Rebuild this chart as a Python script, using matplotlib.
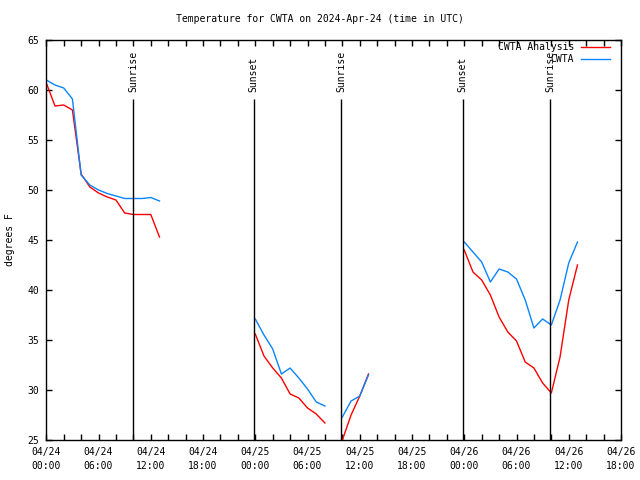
import matplotlib
matplotlib.use('Agg')
import matplotlib.pyplot as plt
import numpy as np

# hours since 2024-04-24 00:00 UTC
analysis_hours = [
    list(range(0, 14)),
    list(range(24, 33)),
    list(range(34, 38)),
    list(range(48, 62)),
]
analysis_temp = [
    [60.7, 58.4, 58.5, 58.0, 51.6, 50.3, 49.7, 49.3, 49.0, 47.7, 47.55, 47.55, 47.55, 45.3],
    [35.6, 33.4, 32.2, 31.2, 29.6, 29.2, 28.2, 27.6, 26.7],
    [25.0, 27.5, 29.4, 31.6],
    [44.0, 41.8, 41.0, 39.5, 37.3, 35.8, 34.9, 32.8, 32.2, 30.7, 29.7, 33.3, 39.0, 42.5],
]

obs_hours = [
    list(range(0, 14)),
    list(range(24, 33)),
    list(range(34, 38)),
    list(range(48, 62)),
]
obs_temp = [
    [61.0, 60.5, 60.2, 59.1, 51.5, 50.5, 50.0, 49.65, 49.4, 49.15, 49.15, 49.15, 49.25, 48.9],
    [37.1, 35.5, 34.1, 31.6, 32.2, 31.2, 30.1, 28.8, 28.4],
    [27.3, 28.9, 29.4, 31.5],
    [44.8, 43.8, 42.8, 40.8, 42.1, 41.8, 41.1, 39.0, 36.2, 37.1, 36.5, 39.0, 42.7, 44.8],
]

event_hours = [10.0, 23.8, 33.85, 47.8, 57.85]
event_names = ['Sunrise', 'Sunset', 'Sunrise', 'Sunset', 'Sunrise']

plt.rcParams['font.family'] = ['DejaVu Sans Mono']
plt.rcParams['font.size'] = 7

fig = plt.figure(figsize=(6.4, 4.8), dpi=100)
ax = fig.add_axes([46.3 / 640, 40 / 480, (621 - 46.3) / 640, 400 / 480])

for i in range(len(analysis_hours)):
    ax.plot(analysis_hours[i], analysis_temp[i], color='#ff0000', lw=1.0,
            label='CWTA Analysis' if i == 0 else None)
for i in range(len(obs_hours)):
    ax.plot(obs_hours[i], obs_temp[i], color='#0a84ff', lw=1.0,
            label='CWTA' if i == 0 else None)

ax.vlines(event_hours, 25, 59.1, color='black', lw=1.0)
for h, name in zip(event_hours, event_names):
    ax.text(h, 59.8, name, rotation=90, ha='center', va='bottom')

ax.set_xlim(0, 66)
ax.set_ylim(25, 65)

ticks = np.arange(0, 67, 2)
labels = []
for t in ticks:
    if t % 6 == 0:
        labels.append('04/%02d\n%02d:00' % (24 + t // 24, t % 24))
    else:
        labels.append('')
ax.set_xticks(ticks)
ax.set_xticklabels(labels, linespacing=1.5)
ax.set_yticks(np.arange(25, 66, 5))
ax.tick_params(direction='in', length=4, width=1, top=True, right=True, pad=5)
for s in ax.spines.values():
    s.set_linewidth(1.0)

ax.legend(loc='upper right', bbox_to_anchor=(0.981, 0.995), frameon=False,
          markerfirst=False, handlelength=3.0, handletextpad=0.7,
          labelspacing=0.25, borderpad=0, borderaxespad=0)

fig.text(0.5, 1 - 19 / 480, 'Temperature for CWTA on 2024-Apr-24 (time in UTC)',
         ha='center', va='center')
fig.text(10 / 640, 0.5, 'degrees F', rotation=90, ha='center', va='center')

fig.savefig('out.png', dpi=100)
